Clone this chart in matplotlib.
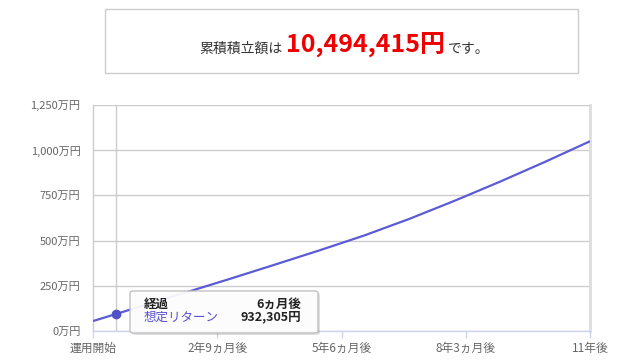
"""
積立シミュレーション（想定リターンの推移）
"""

import matplotlib.pyplot as plt
from matplotlib.patches import FancyBboxPatch, Rectangle

plt.rcParams['font.family'] = ['Noto Sans CJK JP', 'DejaVu Sans']

# データ（単位：万円、経過月数）
months = [0, 6, 12, 24, 36, 48, 60, 72, 84, 96, 108, 120, 132]
values = [55, 93.2305, 132, 209, 286, 365, 445, 528, 620, 720, 825, 935, 1049.4415]

tick_months = [0, 33, 66, 99, 132]
tick_labels = ['運用開始', '2年9ヵ月後', '5年6ヵ月後', '8年3ヵ月後', '11年後']
y_ticks = [0, 250, 500, 750, 1000, 1250]
y_labels = [f'{v:,}万円' for v in y_ticks]

total = 10494415
hover_month = 6
hover_label = '6ヵ月後'
hover_value = 932305

W, H = 640, 360


def px(x, y):
    # ピクセル座標（左上原点）-> figure座標
    return x / W, 1 - y / H


fig = plt.figure(figsize=(6.4, 3.6), dpi=100)

# 上部の結果ボックス
x0, y0 = px(105, 73)
fig.patches.append(Rectangle((x0, y0), 473 / W, 64 / H, transform=fig.transFigure,
                             fill=False, ec='#cccccc', lw=1))
bx, by = px(283, 53)
fig.text(bx, by, '累積積立額は', ha='right', va='baseline', fontsize=10, color='#333333')
bx, by = px(286, 53)
red = fig.text(bx, by, f'{total:,}円', ha='left', va='baseline', fontsize=18,
               fontweight='bold', color='#ee0000')
fig.canvas.draw()
ext = red.get_window_extent()
fig.text((ext.x1 + 3) / W, by, 'です。', ha='left', va='baseline', fontsize=10,
         color='#333333')

# グラフ
l, b = px(93, 331)
ax = fig.add_axes([l, b, 497 / W, 226 / H])
ax.plot(months, values, color='#5b5bd6', lw=1.6, zorder=3, solid_capstyle='butt')
ax.plot([hover_month], [hover_value / 10000], 'o', color='#5050c8', ms=6, zorder=4)
ax.axvline(hover_month, color='#cccccc', lw=1, zorder=1)

ax.set_xlim(0, 132)
ax.set_ylim(0, 1250)
ax.set_yticks(y_ticks)
ax.set_yticklabels(y_labels)
ax.set_xticks(tick_months)
ax.set_xticklabels(tick_labels)
ax.grid(axis='y', color='#cccccc', lw=1)
ax.set_axisbelow(True)

ax.tick_params(axis='y', length=0, pad=9, labelsize=8, labelcolor='#666666')
ax.tick_params(axis='x', length=5, width=1, color='#ccd6eb', pad=3,
               labelsize=8.5, labelcolor='#666666')

ax.spines['top'].set_visible(False)
ax.spines['left'].set_color('#cccccc')
ax.spines['left'].set_linewidth(1)
ax.spines['right'].set_color('#dddddd')
ax.spines['right'].set_linewidth(2)
ax.spines['bottom'].set_color('#ccd6eb')
ax.spines['bottom'].set_linewidth(1)

# ツールチップ
tx, ty = px(130, 333)
tw, th = 188 / W, 42 / H
shadow = FancyBboxPatch((tx + 2 / W, ty - 2 / H), tw, th, transform=fig.transFigure,
                        boxstyle='round,pad=0,rounding_size=0.006',
                        fc='#000000', ec='none', alpha=0.12, zorder=9)
box = FancyBboxPatch((tx, ty), tw, th, transform=fig.transFigure,
                     boxstyle='round,pad=0,rounding_size=0.006',
                     fc='white', ec='#bbbbbb', lw=1, alpha=0.93, zorder=10)
fig.patches.extend([shadow, box])

lx, ly = px(144, 304)
fig.text(lx, ly, '経過', ha='left', va='center', fontsize=9, fontweight='bold',
         color='#222222', zorder=11)
rx, ry = px(301, 304)
fig.text(rx, ry, hover_label, ha='right', va='center', fontsize=9, fontweight='bold',
         color='#222222', zorder=11)
lx, ly = px(144, 317)
fig.text(lx, ly, '想定リターン', ha='left', va='center', fontsize=9,
         color='#5a4fcf', zorder=11)
rx, ry = px(301, 317)
fig.text(rx, ry, f'{hover_value:,}円', ha='right', va='center', fontsize=9,
         fontweight='bold', color='#222222', zorder=11)

fig.savefig('out.png')
